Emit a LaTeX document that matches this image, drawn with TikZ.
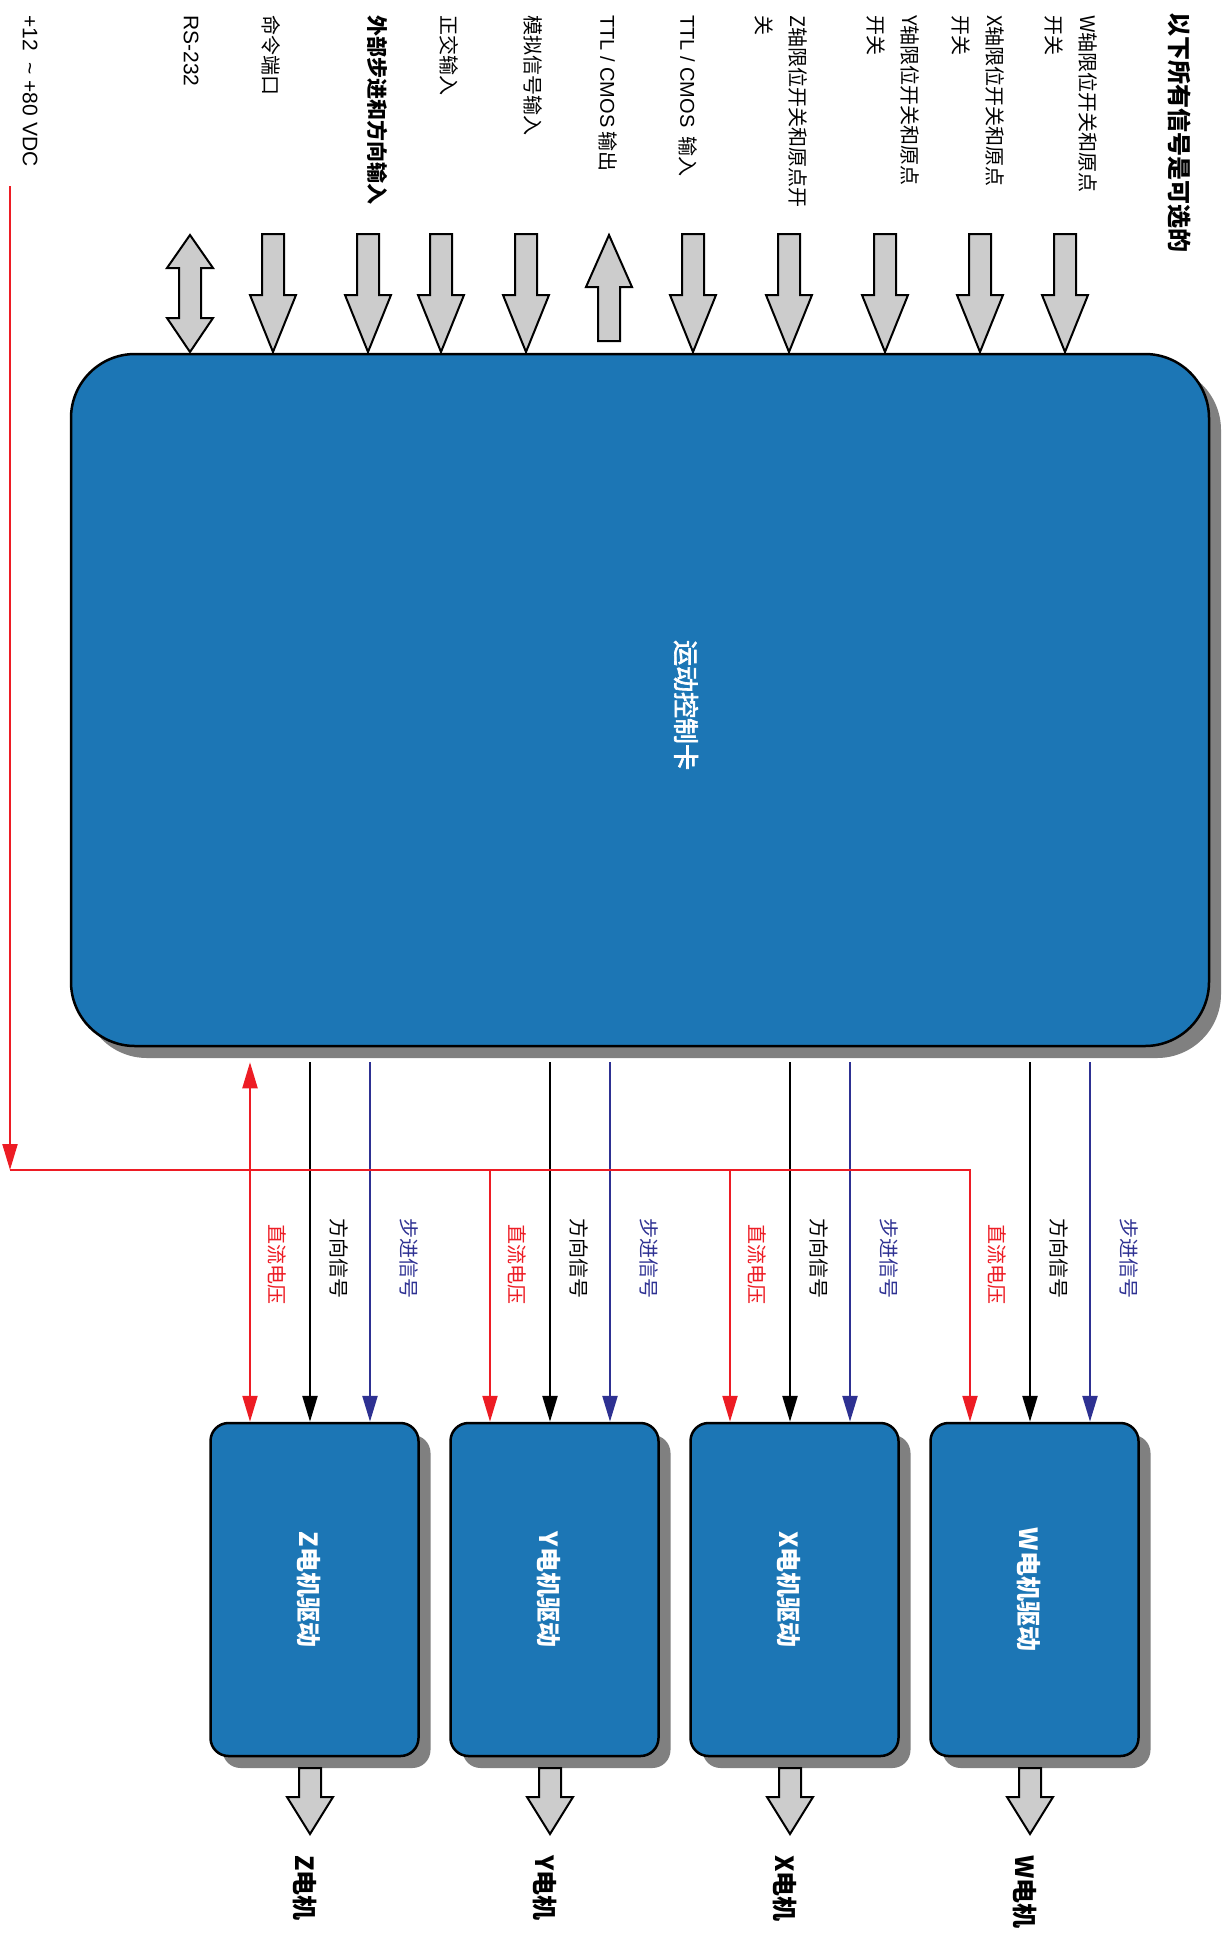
\documentclass[tikz,border=0pt]{standalone}
\usepackage{fontspec}
\setmainfont{Liberation Sans}
\newfontfamily\cjk{Noto Sans CJK SC}
\newfontfamily\cjkmed[FakeBold=2.5]{Noto Sans CJK SC}
\usetikzlibrary{positioning,arrows.meta,shadows,calc}

\definecolor{cardblue}{RGB}{28,118,181}
\definecolor{shadowgray}{RGB}{128,128,128}
\definecolor{arrowgray}{RGB}{204,204,204}
\definecolor{dcred}{RGB}{237,28,36}
\definecolor{stepblue}{RGB}{46,49,146}

\begin{document}
\begin{tikzpicture}[x=1pt, y=-1pt,
    card/.style={draw, line width=2.5pt, fill=cardblue, rounded corners=64pt,
        drop shadow={shadow xshift=12pt, shadow yshift=-12pt, fill=shadowgray, opacity=1}},
    drv/.style={card, rounded corners=18pt, minimum width=208pt, minimum height=333pt},
    cardtext/.style={rotate=-90, text=white, inner sep=0, font=\cjkmed\fontsize{26}{30}\selectfont},
    toplbl/.style={rotate=-90, anchor=west, inner sep=0, align=left, font=\cjk\fontsize{20}{34}\selectfont},
    siglbl/.style={rotate=-90, inner sep=0, font=\cjk\fontsize{20}{24}\selectfont},
    outlbl/.style={rotate=-90, anchor=west, inner sep=0, font=\cjk\bfseries\fontsize{25}{30}\selectfont},
    blockarrow/.style={draw, line width=2pt, fill=arrowgray},
    tip/.style={-{Triangle[length=26pt, width=15pt]}},
    dcline/.style={draw=dcred, line width=2.2pt},
    dirline/.style={draw=black, line width=2.5pt, tip},
    stepline/.style={draw=stepblue, line width=2.5pt, tip},
    fatdown/.pic={\path[blockarrow] (-11,0) -- (11,0) -- (11,61) -- (23,61) -- (0,118) -- (-23,61) -- (-11,61) -- cycle;},
    fatup/.pic={\path[blockarrow] (0,0) -- (23,52) -- (11,52) -- (11,106) -- (-11,106) -- (-11,52) -- (-23,52) -- cycle;},
    fatboth/.pic={\path[blockarrow] (0,0) -- (23,33) -- (11,33) -- (11,83) -- (23,83) -- (0,117) -- (-23,83) -- (-11,83) -- (-11,33) -- (-23,33) -- cycle;},
    outdown/.pic={\path[blockarrow] (-11,0) -- (11,0) -- (11,29) -- (23,29) -- (0,66) -- (-23,29) -- (-11,29) -- cycle;}
]
    \path[use as bounding box] (0,0) rectangle (1224,1944);

    % motion control card
    \node[card, minimum width=1138pt, minimum height=692pt] (card) at (640,700) {};
    \node[cardtext] (cardlbl) at (686,705) {运动控制卡};

    % inputs and outputs on top
    \node[toplbl, font=\fontsize{21}{25}\selectfont] (vdclbl) at (30,15) {+12\ \ \textasciitilde\ +80 VDC};
    \node[toplbl, font=\fontsize{21}{25}\selectfont] (rslbl) at (191,15) {RS-232};
    \node[toplbl] (cmdlbl) at (271,15) {命令端口};
    \node[toplbl, font=\cjk\bfseries\fontsize{21}{34}\selectfont] (extlbl) at (378,15) {外部步进和方向输入};
    \node[toplbl] (quadlbl) at (449,15) {正交输入};
    \node[toplbl] (analbl) at (533,15) {模拟信号输入};
    \node[toplbl] (ttloutlbl) at (608,15) {{\fontspec{Liberation Sans}TTL / CMOS} 输出};
    \node[toplbl] (ttlinlbl) at (688,15) {{\fontspec{Liberation Sans}TTL / CMOS}\ \ 输入};
    \node[toplbl] (zlimlbl) at (781,15) {Z轴限位开关和原点开\\关};
    \node[toplbl] (ylimlbl) at (893,15) {Y轴限位开关和原点\\开关};
    \node[toplbl] (xlimlbl) at (978,15) {X轴限位开关和原点\\开关};
    \node[toplbl] (wlimlbl) at (1071,15) {W轴限位开关和原点\\开关};
    \node[toplbl, font=\cjk\bfseries\fontsize{24}{28}\selectfont] (optlbl) at (1179,12) {以下所有信号是可选的};

    \pic at (190,235) {fatboth};
    \foreach \x in {273,368,441,526,693,789,885,980,1065}
        \pic at (\x,234) {fatdown};
    \pic at (609,235) {fatup};

    % power bus
    \coordinate (vdc) at (10,186);
    \coordinate (bus) at (10,1170);
    \draw[dcline, tip] (vdc) -- (bus);

    % motor drivers
    \foreach \m [count=\i from 0] in {Z,Y,X,W} {
        \pgfmathsetmacro\x{250+240*\i}
        \node[drv] (drv\m) at (\x+64.5,1589.5) {};
        \node[cardtext, font=\cjk\bfseries\fontsize{25}{30}\selectfont] at ([xshift=-6pt]drv\m.center) {\m 电机驱动};
        \coordinate (dc\m) at ([xshift=-64.5pt]drv\m.north);
        \coordinate (dir\m) at ([xshift=-4.5pt]drv\m.north);
        \coordinate (step\m) at ([xshift=55.5pt]drv\m.north);
        \draw[dirline, shorten <=15pt] (card.south -| dir\m) -- (dir\m);
        \draw[stepline, shorten <=15pt] (card.south -| step\m) -- (step\m);
        \node[siglbl, text=dcred] at (\x+27,1264) {直流电压};
        \node[siglbl] at (\x+89,1258) {方向信号};
        \node[siglbl, text=stepblue] at (\x+159,1258) {步进信号};
        \pic at (\x+60,1768) {outdown};
        \node[outlbl] (mot\m) at (\x+55,1855) {\m 电机};
    }

    \draw[dcline, {Triangle[length=26pt, width=15pt]}-{Triangle[length=26pt, width=15pt]}, shorten <=15pt] (card.south -| dcZ) -- (dcZ);
    \draw[dcline, tip] (bus) -- (bus -| dcW) -- (dcW);
    \draw[dcline, tip] (bus -| dcY) -- (dcY);
    \draw[dcline, tip] (bus -| dcX) -- (dcX);
\end{tikzpicture}
\end{document}
